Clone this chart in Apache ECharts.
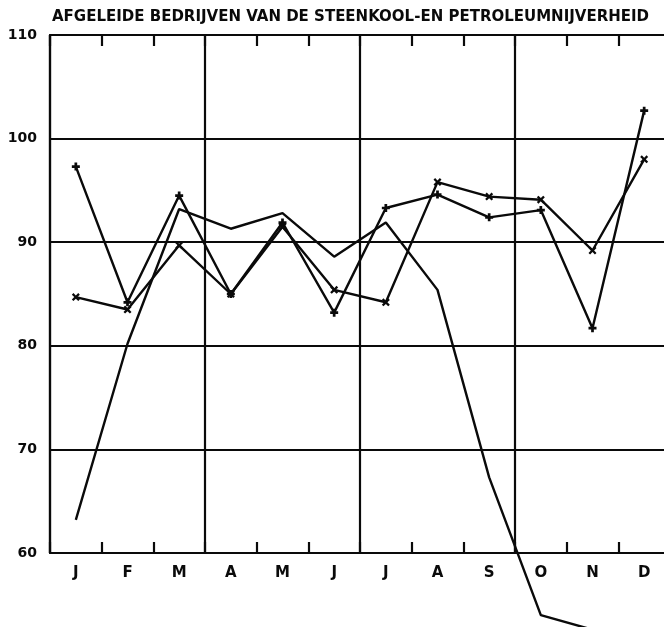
<!DOCTYPE html>
<html>
<head>
<meta charset="utf-8">
<script src="https://cdn.jsdelivr.net/npm/echarts@6/dist/echarts.min.js"></script>
<style>
html,body{margin:0;padding:0;background:#fff;}
#c{width:664px;height:627px;}
</style>
</head>
<body>
<div id="c"></div>
<script>
const titleText = 'AFGELEIDE BEDRIJVEN VAN DE STEENKOOL-EN PETROLEUMNIJVERHEID';
const months = ['J','F','M','A','M','J','J','A','S','O','N','D'];
const yTicks = [60, 70, 80, 90, 100, 110];
const plainLine = [63.2, 80.2, 93.2, 91.3, 92.8, 88.6, 91.9, 85.4, 67.3, 54.0, 52.6, null];
const crossLine = [84.7, 83.5, 89.7, 85.0, 91.5, 85.4, 84.2, 95.8, 94.4, 94.1, 89.2, 98.0];
const plusLine = [97.3, 84.2, 94.5, 85.0, 91.9, 83.2, 93.3, 94.6, 92.4, 93.1, 81.7, 102.7];

const ink = '#0a0a0a';
const chart = echarts.init(document.getElementById('c'), null, {renderer: 'canvas'});
const xSym = 'path://M0,2L2,0L5,3L8,0L10,2L7,5L10,8L8,10L5,7L2,10L0,8L3,5Z';
const plusSym = 'path://M3.3,0H6.7V3.3H10V6.7H6.7V10H3.3V6.7H0V3.3H3.3Z';

chart.setOption({
  animation: false,
  backgroundColor: '#fff',
  title: {
    text: titleText,
    left: 52,
    top: 10,
    padding: 0,
    textStyle: {fontFamily: 'DejaVu Sans', fontWeight: 'bold', fontSize: 15, color: ink}
  },
  grid: {left: 50, right: -6, top: 35, bottom: 74, containLabel: false, outerBoundsMode: 'none'},
  xAxis: [
    {
      type: 'category',
      data: months,
      position: 'bottom',
      boundaryGap: true,
      axisLine: {show: true, lineStyle: {color: ink, width: 2.2}},
      axisTick: {show: true, inside: true, length: 11, interval: 0, lineStyle: {color: ink, width: 2.2}},
      axisLabel: {show: true, interval: 0, margin: 13, fontFamily: 'DejaVu Sans', fontWeight: 'bold', fontSize: 15, color: ink},
      splitLine: {show: true, interval: function (i) { return i % 3 === 0; }, lineStyle: {color: ink, width: 2.2}}
    },
    {
      type: 'category',
      data: months,
      position: 'top',
      boundaryGap: true,
      axisLine: {show: true, lineStyle: {color: ink, width: 2.2}},
      axisTick: {show: true, inside: true, length: 11, interval: 0, lineStyle: {color: ink, width: 2.2}},
      axisLabel: {show: false},
      splitLine: {show: false}
    }
  ],
  yAxis: {
    type: 'value',
    min: yTicks[0],
    max: yTicks[yTicks.length - 1],
    interval: 10,
    axisLine: {show: true, lineStyle: {color: ink, width: 2.2}},
    axisTick: {show: false},
    axisLabel: {margin: 13, fontFamily: 'DejaVu Sans', fontWeight: 'bold', fontSize: 14, color: ink},
    splitLine: {show: true, lineStyle: {color: ink, width: 2}}
  },
  series: [
    {
      type: 'line',
      data: plainLine,
      clip: false,
      showSymbol: false,
      symbol: 'none',
      lineStyle: {color: ink, width: 2.4},
      connectNulls: false
    },
    {
      type: 'line',
      data: crossLine,
      clip: false,
      symbol: xSym,
      symbolSize: 8,
      itemStyle: {color: ink},
      lineStyle: {color: ink, width: 2.4}
    },
    {
      type: 'line',
      data: plusLine,
      clip: false,
      symbol: plusSym,
      symbolSize: 8,
      itemStyle: {color: ink},
      lineStyle: {color: ink, width: 2.4}
    }
  ]
});
</script>
</body>
</html>
